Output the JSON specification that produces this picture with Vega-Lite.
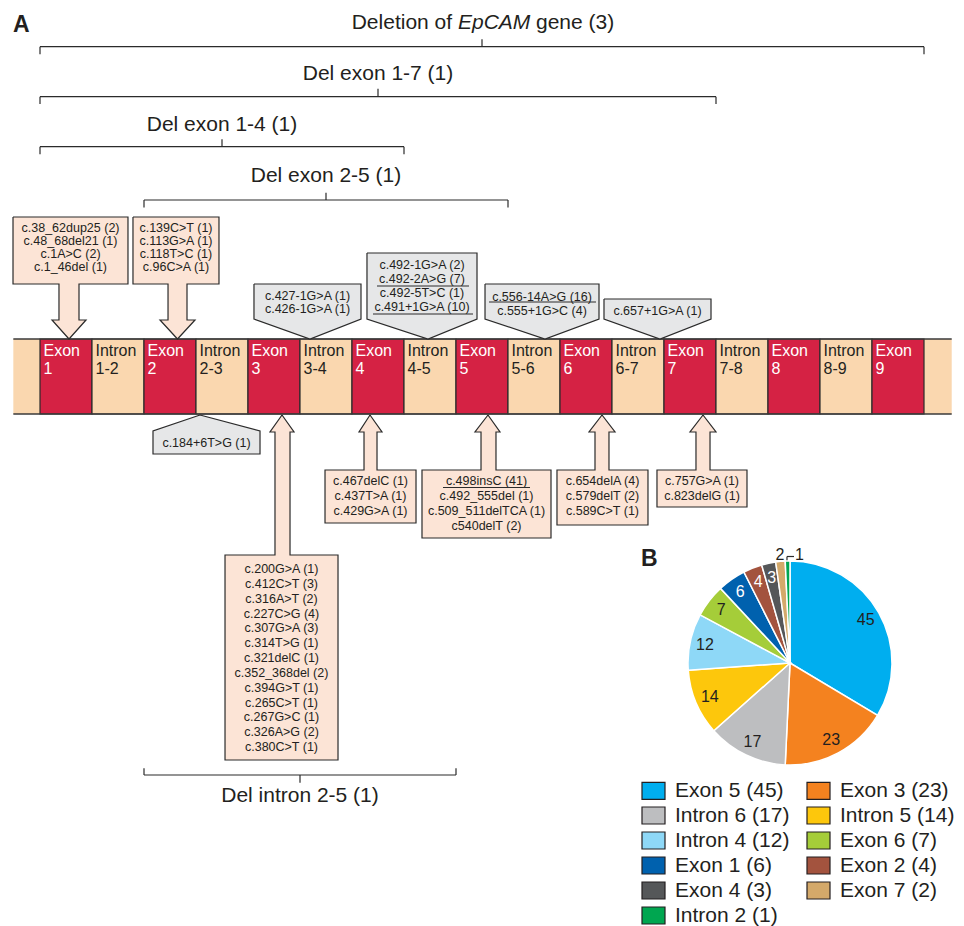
{
  "$schema": "https://vega.github.io/schema/vega-lite/v6.json",
  "width": 964,
  "height": 926,
  "padding": 0,
  "autosize": {"type": "fit", "contains": "padding"},
  "background": "white",
  "config": {
    "view": {"stroke": null},
    "font": "Liberation Sans",
    "text": {"font": "Liberation Sans", "color": "#231F20"}
  },
  "datasets": {
    "segments": [
      {"kind": "utr", "pos": -0.513, "pos2": 0, "label": ""},
      {"kind": "exon", "pos": 0, "pos2": 1, "label": "Exon\n1"},
      {"kind": "intron", "pos": 1, "pos2": 2, "label": "Intron\n1-2"},
      {"kind": "exon", "pos": 2, "pos2": 3, "label": "Exon\n2"},
      {"kind": "intron", "pos": 3, "pos2": 4, "label": "Intron\n2-3"},
      {"kind": "exon", "pos": 4, "pos2": 5, "label": "Exon\n3"},
      {"kind": "intron", "pos": 5, "pos2": 6, "label": "Intron\n3-4"},
      {"kind": "exon", "pos": 6, "pos2": 7, "label": "Exon\n4"},
      {"kind": "intron", "pos": 7, "pos2": 8, "label": "Intron\n4-5"},
      {"kind": "exon", "pos": 8, "pos2": 9, "label": "Exon\n5"},
      {"kind": "intron", "pos": 9, "pos2": 10, "label": "Intron\n5-6"},
      {"kind": "exon", "pos": 10, "pos2": 11, "label": "Exon\n6"},
      {"kind": "intron", "pos": 11, "pos2": 12, "label": "Intron\n6-7"},
      {"kind": "exon", "pos": 12, "pos2": 13, "label": "Exon\n7"},
      {"kind": "intron", "pos": 13, "pos2": 14, "label": "Intron\n7-8"},
      {"kind": "exon", "pos": 14, "pos2": 15, "label": "Exon\n8"},
      {"kind": "intron", "pos": 15, "pos2": 16, "label": "Intron\n8-9"},
      {"kind": "exon", "pos": 16, "pos2": 17, "label": "Exon\n9"},
      {"kind": "utr", "pos": 17, "pos2": 17.533, "label": ""}
    ],
    "edges": [
      {"pos": -0.513, "pos2": 17.533, "lev": 33.9, "lev2": 33.9},
      {"pos": -0.513, "pos2": 17.533, "lev": 41.4, "lev2": 41.4}
    ],
    "rules": [
      {"item": "Deletion of EpCAM gene", "pos": 0, "pos2": 17, "lev": 4.67, "lev2": 4.67},
      {"item": "Deletion of EpCAM gene", "pos": 0, "pos2": 0, "lev": 4.67, "lev2": 5.43},
      {"item": "Deletion of EpCAM gene", "pos": 17, "pos2": 17, "lev": 4.67, "lev2": 5.43},
      {"item": "Deletion of EpCAM gene", "pos": 8.5, "pos2": 8.5, "lev": 3.93, "lev2": 4.67},
      {"item": "Del exon 1-7", "pos": 0, "pos2": 13, "lev": 9.67, "lev2": 9.67},
      {"item": "Del exon 1-7", "pos": 0, "pos2": 0, "lev": 9.67, "lev2": 10.4},
      {"item": "Del exon 1-7", "pos": 13, "pos2": 13, "lev": 9.67, "lev2": 10.4},
      {"item": "Del exon 1-7", "pos": 6.5, "pos2": 6.5, "lev": 8.87, "lev2": 9.67},
      {"item": "Del exon 1-4", "pos": 0, "pos2": 7, "lev": 14.67, "lev2": 14.67},
      {"item": "Del exon 1-4", "pos": 0, "pos2": 0, "lev": 14.67, "lev2": 15.43},
      {"item": "Del exon 1-4", "pos": 7, "pos2": 7, "lev": 14.67, "lev2": 15.43},
      {"item": "Del exon 1-4", "pos": 3.5, "pos2": 3.5, "lev": 13.93, "lev2": 14.67},
      {"item": "Del exon 2-5", "pos": 2, "pos2": 9, "lev": 20.0, "lev2": 20.0},
      {"item": "Del exon 2-5", "pos": 2, "pos2": 2, "lev": 20.0, "lev2": 20.75},
      {"item": "Del exon 2-5", "pos": 9, "pos2": 9, "lev": 20.0, "lev2": 20.75},
      {"item": "Del exon 2-5", "pos": 5.5, "pos2": 5.5, "lev": 19.27, "lev2": 20.0},
      {"item": "Del intron 2-5", "pos": 2, "pos2": 8, "lev": 77.5, "lev2": 77.5},
      {"item": "Del intron 2-5", "pos": 2, "pos2": 2, "lev": 76.83, "lev2": 77.5},
      {"item": "Del intron 2-5", "pos": 8, "pos2": 8, "lev": 76.83, "lev2": 77.5},
      {"item": "Del intron 2-5", "pos": 5, "pos2": 5, "lev": 77.5, "lev2": 78.27},
      {"item": "underline c.492-2A>G", "pos": 6.481, "pos2": 8.25, "lev": 28.6, "lev2": 28.6},
      {"item": "underline c.491+1G>A", "pos": 6.404, "pos2": 8.327, "lev": 31.4, "lev2": 31.4},
      {"item": "underline c.556-14A>G", "pos": 8.635, "pos2": 10.692, "lev": 30.2, "lev2": 30.2},
      {"item": "underline c.498insC", "pos": 7.75, "pos2": 9.423, "lev": 48.75, "lev2": 48.75},
      {"item": "pie leader", "pos": 14.365, "pos2": 14.365, "lev": 56.1, "lev2": 55.65},
      {"item": "pie leader", "pos": 14.365, "pos2": 14.5, "lev": 55.65, "lev2": 55.65}
    ],
    "callouts": [
      {"callout": "Exon 1", "region": "exon", "i": 0, "pos": -0.519, "lev": 21.7},
      {"callout": "Exon 1", "region": "exon", "i": 1, "pos": 1.692, "lev": 21.7},
      {"callout": "Exon 1", "region": "exon", "i": 2, "pos": 1.692, "lev": 28.4},
      {"callout": "Exon 1", "region": "exon", "i": 3, "pos": 0.75, "lev": 28.4},
      {"callout": "Exon 1", "region": "exon", "i": 4, "pos": 0.75, "lev": 32.0},
      {"callout": "Exon 1", "region": "exon", "i": 5, "pos": 0.885, "lev": 32.0},
      {"callout": "Exon 1", "region": "exon", "i": 6, "pos": 0.558, "lev": 33.9},
      {"callout": "Exon 1", "region": "exon", "i": 7, "pos": 0.231, "lev": 32.0},
      {"callout": "Exon 1", "region": "exon", "i": 8, "pos": 0.365, "lev": 32.0},
      {"callout": "Exon 1", "region": "exon", "i": 9, "pos": 0.365, "lev": 28.4},
      {"callout": "Exon 1", "region": "exon", "i": 10, "pos": -0.519, "lev": 28.4},
      {"callout": "Exon 1", "region": "exon", "i": 11, "pos": -0.519, "lev": 21.7},
      {"callout": "Exon 2", "region": "exon", "i": 0, "pos": 1.788, "lev": 21.7},
      {"callout": "Exon 2", "region": "exon", "i": 1, "pos": 3.442, "lev": 21.7},
      {"callout": "Exon 2", "region": "exon", "i": 2, "pos": 3.442, "lev": 28.4},
      {"callout": "Exon 2", "region": "exon", "i": 3, "pos": 2.827, "lev": 28.4},
      {"callout": "Exon 2", "region": "exon", "i": 4, "pos": 2.827, "lev": 32.0},
      {"callout": "Exon 2", "region": "exon", "i": 5, "pos": 2.981, "lev": 32.0},
      {"callout": "Exon 2", "region": "exon", "i": 6, "pos": 2.644, "lev": 33.9},
      {"callout": "Exon 2", "region": "exon", "i": 7, "pos": 2.308, "lev": 32.0},
      {"callout": "Exon 2", "region": "exon", "i": 8, "pos": 2.462, "lev": 32.0},
      {"callout": "Exon 2", "region": "exon", "i": 9, "pos": 2.462, "lev": 28.4},
      {"callout": "Exon 2", "region": "exon", "i": 10, "pos": 1.788, "lev": 28.4},
      {"callout": "Exon 2", "region": "exon", "i": 11, "pos": 1.788, "lev": 21.7},
      {"callout": "Exon 3", "region": "exon", "i": 0, "pos": 4.654, "lev": 41.5},
      {"callout": "Exon 3", "region": "exon", "i": 1, "pos": 4.885, "lev": 43.2},
      {"callout": "Exon 3", "region": "exon", "i": 2, "pos": 4.808, "lev": 43.2},
      {"callout": "Exon 3", "region": "exon", "i": 3, "pos": 4.808, "lev": 55.5},
      {"callout": "Exon 3", "region": "exon", "i": 4, "pos": 5.731, "lev": 55.5},
      {"callout": "Exon 3", "region": "exon", "i": 5, "pos": 5.731, "lev": 76.0},
      {"callout": "Exon 3", "region": "exon", "i": 6, "pos": 3.558, "lev": 76.0},
      {"callout": "Exon 3", "region": "exon", "i": 7, "pos": 3.558, "lev": 55.5},
      {"callout": "Exon 3", "region": "exon", "i": 8, "pos": 4.519, "lev": 55.5},
      {"callout": "Exon 3", "region": "exon", "i": 9, "pos": 4.519, "lev": 43.2},
      {"callout": "Exon 3", "region": "exon", "i": 10, "pos": 4.423, "lev": 43.2},
      {"callout": "Exon 3", "region": "exon", "i": 11, "pos": 4.654, "lev": 41.5},
      {"callout": "Exon 4", "region": "exon", "i": 0, "pos": 6.346, "lev": 41.5},
      {"callout": "Exon 4", "region": "exon", "i": 1, "pos": 6.577, "lev": 43.2},
      {"callout": "Exon 4", "region": "exon", "i": 2, "pos": 6.481, "lev": 43.2},
      {"callout": "Exon 4", "region": "exon", "i": 3, "pos": 6.481, "lev": 47.0},
      {"callout": "Exon 4", "region": "exon", "i": 4, "pos": 7.231, "lev": 47.0},
      {"callout": "Exon 4", "region": "exon", "i": 5, "pos": 7.231, "lev": 52.3},
      {"callout": "Exon 4", "region": "exon", "i": 6, "pos": 5.481, "lev": 52.3},
      {"callout": "Exon 4", "region": "exon", "i": 7, "pos": 5.481, "lev": 47.0},
      {"callout": "Exon 4", "region": "exon", "i": 8, "pos": 6.231, "lev": 47.0},
      {"callout": "Exon 4", "region": "exon", "i": 9, "pos": 6.231, "lev": 43.2},
      {"callout": "Exon 4", "region": "exon", "i": 10, "pos": 6.135, "lev": 43.2},
      {"callout": "Exon 4", "region": "exon", "i": 11, "pos": 6.346, "lev": 41.5},
      {"callout": "Exon 5", "region": "exon", "i": 0, "pos": 8.615, "lev": 41.5},
      {"callout": "Exon 5", "region": "exon", "i": 1, "pos": 8.846, "lev": 43.2},
      {"callout": "Exon 5", "region": "exon", "i": 2, "pos": 8.769, "lev": 43.2},
      {"callout": "Exon 5", "region": "exon", "i": 3, "pos": 8.769, "lev": 47.0},
      {"callout": "Exon 5", "region": "exon", "i": 4, "pos": 9.827, "lev": 47.0},
      {"callout": "Exon 5", "region": "exon", "i": 5, "pos": 9.827, "lev": 53.8},
      {"callout": "Exon 5", "region": "exon", "i": 6, "pos": 7.346, "lev": 53.8},
      {"callout": "Exon 5", "region": "exon", "i": 7, "pos": 7.346, "lev": 47.0},
      {"callout": "Exon 5", "region": "exon", "i": 8, "pos": 8.481, "lev": 47.0},
      {"callout": "Exon 5", "region": "exon", "i": 9, "pos": 8.481, "lev": 43.2},
      {"callout": "Exon 5", "region": "exon", "i": 10, "pos": 8.365, "lev": 43.2},
      {"callout": "Exon 5", "region": "exon", "i": 11, "pos": 8.615, "lev": 41.5},
      {"callout": "Exon 6", "region": "exon", "i": 0, "pos": 10.808, "lev": 41.5},
      {"callout": "Exon 6", "region": "exon", "i": 1, "pos": 11.058, "lev": 43.2},
      {"callout": "Exon 6", "region": "exon", "i": 2, "pos": 10.942, "lev": 43.2},
      {"callout": "Exon 6", "region": "exon", "i": 3, "pos": 10.942, "lev": 47.0},
      {"callout": "Exon 6", "region": "exon", "i": 4, "pos": 11.692, "lev": 47.0},
      {"callout": "Exon 6", "region": "exon", "i": 5, "pos": 11.692, "lev": 52.5},
      {"callout": "Exon 6", "region": "exon", "i": 6, "pos": 9.942, "lev": 52.5},
      {"callout": "Exon 6", "region": "exon", "i": 7, "pos": 9.942, "lev": 47.0},
      {"callout": "Exon 6", "region": "exon", "i": 8, "pos": 10.673, "lev": 47.0},
      {"callout": "Exon 6", "region": "exon", "i": 9, "pos": 10.673, "lev": 43.2},
      {"callout": "Exon 6", "region": "exon", "i": 10, "pos": 10.558, "lev": 43.2},
      {"callout": "Exon 6", "region": "exon", "i": 11, "pos": 10.808, "lev": 41.5},
      {"callout": "Exon 7", "region": "exon", "i": 0, "pos": 12.75, "lev": 41.5},
      {"callout": "Exon 7", "region": "exon", "i": 1, "pos": 13.0, "lev": 43.2},
      {"callout": "Exon 7", "region": "exon", "i": 2, "pos": 12.885, "lev": 43.2},
      {"callout": "Exon 7", "region": "exon", "i": 3, "pos": 12.885, "lev": 47.0},
      {"callout": "Exon 7", "region": "exon", "i": 4, "pos": 13.596, "lev": 47.0},
      {"callout": "Exon 7", "region": "exon", "i": 5, "pos": 13.596, "lev": 50.7},
      {"callout": "Exon 7", "region": "exon", "i": 6, "pos": 11.865, "lev": 50.7},
      {"callout": "Exon 7", "region": "exon", "i": 7, "pos": 11.865, "lev": 47.0},
      {"callout": "Exon 7", "region": "exon", "i": 8, "pos": 12.615, "lev": 47.0},
      {"callout": "Exon 7", "region": "exon", "i": 9, "pos": 12.615, "lev": 43.2},
      {"callout": "Exon 7", "region": "exon", "i": 10, "pos": 12.5, "lev": 43.2},
      {"callout": "Exon 7", "region": "exon", "i": 11, "pos": 12.75, "lev": 41.5},
      {"callout": "Intron 3", "region": "intron", "i": 0, "pos": 4.115, "lev": 28.4},
      {"callout": "Intron 3", "region": "intron", "i": 1, "pos": 6.173, "lev": 28.4},
      {"callout": "Intron 3", "region": "intron", "i": 2, "pos": 6.173, "lev": 31.9},
      {"callout": "Intron 3", "region": "intron", "i": 3, "pos": 5.192, "lev": 33.9},
      {"callout": "Intron 3", "region": "intron", "i": 4, "pos": 4.115, "lev": 31.9},
      {"callout": "Intron 3", "region": "intron", "i": 5, "pos": 4.115, "lev": 28.4},
      {"callout": "Intron 4", "region": "intron", "i": 0, "pos": 6.288, "lev": 25.3},
      {"callout": "Intron 4", "region": "intron", "i": 1, "pos": 8.404, "lev": 25.3},
      {"callout": "Intron 4", "region": "intron", "i": 2, "pos": 8.404, "lev": 31.9},
      {"callout": "Intron 4", "region": "intron", "i": 3, "pos": 7.462, "lev": 33.9},
      {"callout": "Intron 4", "region": "intron", "i": 4, "pos": 6.288, "lev": 31.9},
      {"callout": "Intron 4", "region": "intron", "i": 5, "pos": 6.288, "lev": 25.3},
      {"callout": "Intron 5", "region": "intron", "i": 0, "pos": 8.558, "lev": 28.4},
      {"callout": "Intron 5", "region": "intron", "i": 1, "pos": 10.75, "lev": 28.4},
      {"callout": "Intron 5", "region": "intron", "i": 2, "pos": 10.75, "lev": 31.9},
      {"callout": "Intron 5", "region": "intron", "i": 3, "pos": 9.712, "lev": 33.9},
      {"callout": "Intron 5", "region": "intron", "i": 4, "pos": 8.558, "lev": 31.9},
      {"callout": "Intron 5", "region": "intron", "i": 5, "pos": 8.558, "lev": 28.4},
      {"callout": "Intron 6", "region": "intron", "i": 0, "pos": 10.846, "lev": 29.9},
      {"callout": "Intron 6", "region": "intron", "i": 1, "pos": 12.904, "lev": 29.9},
      {"callout": "Intron 6", "region": "intron", "i": 2, "pos": 12.904, "lev": 31.9},
      {"callout": "Intron 6", "region": "intron", "i": 3, "pos": 11.923, "lev": 33.9},
      {"callout": "Intron 6", "region": "intron", "i": 4, "pos": 10.846, "lev": 31.9},
      {"callout": "Intron 6", "region": "intron", "i": 5, "pos": 10.846, "lev": 29.9},
      {"callout": "Intron 2", "region": "intron", "i": 0, "pos": 3.077, "lev": 41.5},
      {"callout": "Intron 2", "region": "intron", "i": 1, "pos": 4.231, "lev": 43.1},
      {"callout": "Intron 2", "region": "intron", "i": 2, "pos": 4.231, "lev": 45.4},
      {"callout": "Intron 2", "region": "intron", "i": 3, "pos": 2.173, "lev": 45.4},
      {"callout": "Intron 2", "region": "intron", "i": 4, "pos": 2.173, "lev": 43.1},
      {"callout": "Intron 2", "region": "intron", "i": 5, "pos": 3.077, "lev": 41.5}
    ],
    "variants": [
      {"site": "Exon 1", "variant": "c.38_62dup25 (2)", "pos": 0.587, "lev": 22.75},
      {"site": "Exon 1", "variant": "c.48_68del21 (1)", "pos": 0.587, "lev": 24.05},
      {"site": "Exon 1", "variant": "c.1A>C (2)", "pos": 0.587, "lev": 25.35},
      {"site": "Exon 1", "variant": "c.1_46del (1)", "pos": 0.587, "lev": 26.65},
      {"site": "Exon 2", "variant": "c.139C>T (1)", "pos": 2.615, "lev": 22.75},
      {"site": "Exon 2", "variant": "c.113G>A (1)", "pos": 2.615, "lev": 24.05},
      {"site": "Exon 2", "variant": "c.118T>C (1)", "pos": 2.615, "lev": 25.35},
      {"site": "Exon 2", "variant": "c.96C>A (1)", "pos": 2.615, "lev": 26.65},
      {"site": "Intron 3", "variant": "c.427-1G>A (1)", "pos": 5.144, "lev": 29.55},
      {"site": "Intron 3", "variant": "c.426-1G>A (1)", "pos": 5.144, "lev": 30.9},
      {"site": "Intron 4", "variant": "c.492-1G>A (2)", "pos": 7.346, "lev": 26.5},
      {"site": "Intron 4", "variant": "c.492-2A>G (7)", "pos": 7.346, "lev": 27.9},
      {"site": "Intron 4", "variant": "c.492-5T>C (1)", "pos": 7.346, "lev": 29.3},
      {"site": "Intron 4", "variant": "c.491+1G>A (10)", "pos": 7.346, "lev": 30.7},
      {"site": "Intron 5", "variant": "c.556-14A>G (16)", "pos": 9.654, "lev": 29.7},
      {"site": "Intron 5", "variant": "c.555+1G>C (4)", "pos": 9.654, "lev": 31.1},
      {"site": "Intron 6", "variant": "c.657+1G>A (1)", "pos": 11.875, "lev": 31.1},
      {"site": "Intron 2", "variant": "c.184+6T>G (1)", "pos": 3.202, "lev": 44.3},
      {"site": "Exon 3", "variant": "c.200G>A (1)", "pos": 4.644, "lev": 56.9},
      {"site": "Exon 3", "variant": "c.412C>T (3)", "pos": 4.644, "lev": 58.38},
      {"site": "Exon 3", "variant": "c.316A>T (2)", "pos": 4.644, "lev": 59.87},
      {"site": "Exon 3", "variant": "c.227C>G (4)", "pos": 4.644, "lev": 61.35},
      {"site": "Exon 3", "variant": "c.307G>A (3)", "pos": 4.644, "lev": 62.83},
      {"site": "Exon 3", "variant": "c.314T>G (1)", "pos": 4.644, "lev": 64.32},
      {"site": "Exon 3", "variant": "c.321delC (1)", "pos": 4.644, "lev": 65.8},
      {"site": "Exon 3", "variant": "c.352_368del (2)", "pos": 4.644, "lev": 67.28},
      {"site": "Exon 3", "variant": "c.394G>T (1)", "pos": 4.644, "lev": 68.77},
      {"site": "Exon 3", "variant": "c.265C>T (1)", "pos": 4.644, "lev": 70.25},
      {"site": "Exon 3", "variant": "c.267G>C (1)", "pos": 4.644, "lev": 71.73},
      {"site": "Exon 3", "variant": "c.326A>G (2)", "pos": 4.644, "lev": 73.22},
      {"site": "Exon 3", "variant": "c.380C>T (1)", "pos": 4.644, "lev": 74.7},
      {"site": "Exon 4", "variant": "c.467delC (1)", "pos": 6.356, "lev": 48.1},
      {"site": "Exon 4", "variant": "c.437T>A (1)", "pos": 6.356, "lev": 49.6},
      {"site": "Exon 4", "variant": "c.429G>A (1)", "pos": 6.356, "lev": 51.1},
      {"site": "Exon 5", "variant": "c.498insC (41)", "pos": 8.587, "lev": 48.1},
      {"site": "Exon 5", "variant": "c.492_555del (1)", "pos": 8.587, "lev": 49.6},
      {"site": "Exon 5", "variant": "c.509_511delTCA (1)", "pos": 8.587, "lev": 51.1},
      {"site": "Exon 5", "variant": "c540delT (2)", "pos": 8.587, "lev": 52.6},
      {"site": "Exon 6", "variant": "c.654delA (4)", "pos": 10.817, "lev": 48.1},
      {"site": "Exon 6", "variant": "c.579delT (2)", "pos": 10.817, "lev": 49.6},
      {"site": "Exon 6", "variant": "c.589C>T (1)", "pos": 10.817, "lev": 51.1},
      {"site": "Exon 7", "variant": "c.757G>A (1)", "pos": 12.731, "lev": 48.1},
      {"site": "Exon 7", "variant": "c.823delG (1)", "pos": 12.731, "lev": 49.6}
    ],
    "titles": [
      {"part": "center", "text": "Del exon 1-7 (1)", "pos": 6.5, "lev": 8.0},
      {"part": "center", "text": "Del exon 1-4 (1)", "pos": 3.5, "lev": 13.05},
      {"part": "center", "text": "Del exon 2-5 (1)", "pos": 5.5, "lev": 18.15},
      {"part": "center", "text": "Del intron 2-5 (1)", "pos": 5, "lev": 80.2},
      {"part": "before", "text": "Deletion of", "pos": 7.925, "lev": 2.85},
      {"part": "gene", "text": "EpCAM", "pos": 8.733, "lev": 2.85},
      {"part": "after", "text": "gene (3)", "pos": 9.538, "lev": 2.85},
      {"part": "panel", "text": "A", "pos": -0.519, "lev": 3.2},
      {"part": "panel", "text": "B", "pos": 11.558, "lev": 56.6}
    ],
    "share": [
      {"site": "Exon 5", "count": 45, "legend": "Exon 5 (45)"},
      {"site": "Exon 3", "count": 23, "legend": "Exon 3 (23)"},
      {"site": "Intron 6", "count": 17, "legend": "Intron 6 (17)"},
      {"site": "Intron 5", "count": 14, "legend": "Intron 5 (14)"},
      {"site": "Intron 4", "count": 12, "legend": "Intron 4 (12)"},
      {"site": "Exon 6", "count": 7, "legend": "Exon 6 (7)"},
      {"site": "Exon 1", "count": 6, "legend": "Exon 1 (6)"},
      {"site": "Exon 2", "count": 4, "legend": "Exon 2 (4)"},
      {"site": "Exon 4", "count": 3, "legend": "Exon 4 (3)"},
      {"site": "Exon 7", "count": 2, "legend": "Exon 7 (2)"},
      {"site": "Intron 2", "count": 1, "legend": "Intron 2 (1)"}
    ]
  },
  "layer": [
    {
      "data": {"name": "segments"},
      "transform": [{"filter": "datum.kind === 'utr'"}],
      "mark": {"type": "rect", "fill": "#FAD7AF"},
      "encoding": {
        "x": {"field": "pos", "type": "quantitative", "scale": {"domain": [-0.7692, 17.7692], "nice": false, "zero": false}, "axis": null},
        "x2": {"field": "pos2"},
        "y": {"datum": 33.9, "type": "quantitative", "scale": {"domain": [0, 92.6], "reverse": true, "nice": false, "zero": false}, "axis": null},
        "y2": {"datum": 41.4}
      }
    },
    {
      "data": {"name": "segments"},
      "transform": [{"filter": "datum.kind !== 'utr'"}],
      "mark": {"type": "rect", "stroke": "#2b2b2b", "strokeWidth": 1.2},
      "encoding": {
        "x": {"field": "pos", "type": "quantitative", "scale": {"domain": [-0.7692, 17.7692], "nice": false, "zero": false}, "axis": null},
        "x2": {"field": "pos2"},
        "y": {"datum": 33.9, "type": "quantitative", "scale": {"domain": [0, 92.6], "reverse": true, "nice": false, "zero": false}, "axis": null},
        "y2": {"datum": 41.4},
        "color": {"condition": {"test": "datum.kind === 'exon'", "value": "#D52244"}, "value": "#FAD7AF"}
      }
    },
    {
      "data": {"name": "edges"},
      "mark": {"type": "rule", "stroke": "#3a3a3a", "strokeWidth": 1.5},
      "encoding": {
        "x": {"field": "pos", "type": "quantitative", "scale": {"domain": [-0.7692, 17.7692], "nice": false, "zero": false}, "axis": null},
        "x2": {"field": "pos2"},
        "y": {"field": "lev", "type": "quantitative", "scale": {"domain": [0, 92.6], "reverse": true, "nice": false, "zero": false}, "axis": null},
        "y2": {"field": "lev2"}
      }
    },
    {
      "data": {"name": "segments"},
      "transform": [{"filter": "datum.kind !== 'utr'"}],
      "mark": {"type": "text", "align": "left", "baseline": "alphabetic", "dx": 3.5, "fontSize": 16, "lineHeight": 17.7, "lineBreak": "\n"},
      "encoding": {
        "x": {"field": "pos", "type": "quantitative", "scale": {"domain": [-0.7692, 17.7692], "nice": false, "zero": false}, "axis": null},
        "y": {"datum": 35.6, "type": "quantitative", "scale": {"domain": [0, 92.6], "reverse": true, "nice": false, "zero": false}, "axis": null},
        "text": {"field": "label"},
        "color": {"condition": {"test": "datum.kind === 'exon'", "value": "white"}, "value": "#231F20"}
      }
    },
    {
      "data": {"name": "callouts"},
      "transform": [{"filter": "datum.region === 'exon'"}],
      "mark": {"type": "line", "fill": "#FCE4D6", "stroke": "#2b2b2b", "strokeWidth": 1.2, "strokeJoin": "miter", "interpolate": "linear"},
      "encoding": {
        "x": {"field": "pos", "type": "quantitative", "scale": {"domain": [-0.7692, 17.7692], "nice": false, "zero": false}, "axis": null},
        "y": {"field": "lev", "type": "quantitative", "scale": {"domain": [0, 92.6], "reverse": true, "nice": false, "zero": false}, "axis": null},
        "detail": {"field": "callout"},
        "order": {"field": "i", "type": "quantitative"}
      }
    },
    {
      "data": {"name": "callouts"},
      "transform": [{"filter": "datum.region === 'intron'"}],
      "mark": {"type": "line", "fill": "#E6E7E8", "stroke": "#2b2b2b", "strokeWidth": 1.2, "strokeJoin": "miter", "interpolate": "linear"},
      "encoding": {
        "x": {"field": "pos", "type": "quantitative", "scale": {"domain": [-0.7692, 17.7692], "nice": false, "zero": false}, "axis": null},
        "y": {"field": "lev", "type": "quantitative", "scale": {"domain": [0, 92.6], "reverse": true, "nice": false, "zero": false}, "axis": null},
        "detail": {"field": "callout"},
        "order": {"field": "i", "type": "quantitative"}
      }
    },
    {
      "data": {"name": "variants"},
      "mark": {"type": "text", "align": "center", "baseline": "middle", "fontSize": 12.5},
      "encoding": {
        "x": {"field": "pos", "type": "quantitative", "scale": {"domain": [-0.7692, 17.7692], "nice": false, "zero": false}, "axis": null},
        "y": {"field": "lev", "type": "quantitative", "scale": {"domain": [0, 92.6], "reverse": true, "nice": false, "zero": false}, "axis": null},
        "text": {"field": "variant"}
      }
    },
    {
      "data": {"name": "rules"},
      "mark": {"type": "rule", "stroke": "#2b2b2b", "strokeWidth": 1.2},
      "encoding": {
        "x": {"field": "pos", "type": "quantitative", "scale": {"domain": [-0.7692, 17.7692], "nice": false, "zero": false}, "axis": null},
        "x2": {"field": "pos2"},
        "y": {"field": "lev", "type": "quantitative", "scale": {"domain": [0, 92.6], "reverse": true, "nice": false, "zero": false}, "axis": null},
        "y2": {"field": "lev2"}
      }
    },
    {
      "data": {"name": "titles"},
      "transform": [{"filter": "datum.part === 'center'"}],
      "mark": {"type": "text", "align": "center", "baseline": "alphabetic", "fontSize": 21},
      "encoding": {
        "x": {"field": "pos", "type": "quantitative", "scale": {"domain": [-0.7692, 17.7692], "nice": false, "zero": false}, "axis": null},
        "y": {"field": "lev", "type": "quantitative", "scale": {"domain": [0, 92.6], "reverse": true, "nice": false, "zero": false}, "axis": null},
        "text": {"field": "text"}
      }
    },
    {
      "data": {"name": "titles"},
      "transform": [{"filter": "datum.part === 'before'"}],
      "mark": {"type": "text", "align": "right", "baseline": "alphabetic", "fontSize": 21},
      "encoding": {
        "x": {"field": "pos", "type": "quantitative", "scale": {"domain": [-0.7692, 17.7692], "nice": false, "zero": false}, "axis": null},
        "y": {"field": "lev", "type": "quantitative", "scale": {"domain": [0, 92.6], "reverse": true, "nice": false, "zero": false}, "axis": null},
        "text": {"field": "text"}
      }
    },
    {
      "data": {"name": "titles"},
      "transform": [{"filter": "datum.part === 'gene'"}],
      "mark": {"type": "text", "align": "center", "baseline": "alphabetic", "fontSize": 21, "fontStyle": "italic"},
      "encoding": {
        "x": {"field": "pos", "type": "quantitative", "scale": {"domain": [-0.7692, 17.7692], "nice": false, "zero": false}, "axis": null},
        "y": {"field": "lev", "type": "quantitative", "scale": {"domain": [0, 92.6], "reverse": true, "nice": false, "zero": false}, "axis": null},
        "text": {"field": "text"}
      }
    },
    {
      "data": {"name": "titles"},
      "transform": [{"filter": "datum.part === 'after'"}],
      "mark": {"type": "text", "align": "left", "baseline": "alphabetic", "fontSize": 21},
      "encoding": {
        "x": {"field": "pos", "type": "quantitative", "scale": {"domain": [-0.7692, 17.7692], "nice": false, "zero": false}, "axis": null},
        "y": {"field": "lev", "type": "quantitative", "scale": {"domain": [0, 92.6], "reverse": true, "nice": false, "zero": false}, "axis": null},
        "text": {"field": "text"}
      }
    },
    {
      "data": {"name": "titles"},
      "transform": [{"filter": "datum.part === 'panel'"}],
      "mark": {"type": "text", "align": "left", "baseline": "alphabetic", "fontSize": 23, "fontWeight": "bold"},
      "encoding": {
        "x": {"field": "pos", "type": "quantitative", "scale": {"domain": [-0.7692, 17.7692], "nice": false, "zero": false}, "axis": null},
        "y": {"field": "lev", "type": "quantitative", "scale": {"domain": [0, 92.6], "reverse": true, "nice": false, "zero": false}, "axis": null},
        "text": {"field": "text"}
      }
    },
    {
      "data": {"name": "share"},
      "mark": {"type": "arc", "outerRadius": 102, "stroke": "white", "strokeWidth": 1.5},
      "encoding": {
        "x": {"datum": 14.423, "type": "quantitative", "scale": {"domain": [-0.7692, 17.7692], "nice": false, "zero": false}, "axis": null},
        "y": {"datum": 66.3, "type": "quantitative", "scale": {"domain": [0, 92.6], "reverse": true, "nice": false, "zero": false}, "axis": null},
        "theta": {"field": "count", "type": "quantitative", "stack": true},
        "order": {"field": "count", "type": "quantitative", "sort": "descending"},
        "color": {
          "field": "legend",
          "type": "nominal",
          "scale": {
            "domain": ["Exon 5 (45)", "Intron 6 (17)", "Intron 4 (12)", "Exon 1 (6)", "Exon 4 (3)", "Intron 2 (1)", "Exon 3 (23)", "Intron 5 (14)", "Exon 6 (7)", "Exon 2 (4)", "Exon 7 (2)"],
            "range": ["#00AEEF", "#BDBEC0", "#8ED8F7", "#0061AE", "#555759", "#00A650", "#F4821F", "#FDC70C", "#A5CD39", "#A3533E", "#D4A96A"]
          },
          "legend": {
            "orient": "none",
            "legendX": 641,
            "legendY": 778,
            "columns": 2,
            "title": null,
            "padding": 0,
            "symbolType": "M-1,-0.74H1V0.74H-1Z",
            "symbolSize": 529,
            "symbolStrokeColor": "#231F20",
            "symbolStrokeWidth": 1.2,
            "symbolOpacity": 1,
            "labelFont": "Liberation Sans",
            "labelFontSize": 21,
            "labelColor": "#231F20",
            "labelOffset": 9,
            "labelLimit": 0,
            "columnPadding": 14,
            "rowPadding": 1
          }
        }
      }
    },
    {
      "data": {"name": "share"},
      "mark": {"type": "text", "radius": 87, "fontSize": 16, "align": "center", "baseline": "middle"},
      "encoding": {
        "x": {"datum": 14.423, "type": "quantitative", "scale": {"domain": [-0.7692, 17.7692], "nice": false, "zero": false}, "axis": null},
        "y": {"datum": 66.3, "type": "quantitative", "scale": {"domain": [0, 92.6], "reverse": true, "nice": false, "zero": false}, "axis": null},
        "theta": {"field": "count", "type": "quantitative", "stack": true},
        "order": {"field": "count", "type": "quantitative", "sort": "descending"},
        "text": {"condition": {"test": "datum.count > 2", "field": "count", "type": "quantitative"}, "value": ""},
        "color": {"condition": {"test": "datum.count <= 6", "value": "white"}, "value": "#231F20"}
      }
    },
    {
      "data": {"name": "share"},
      "mark": {"type": "text", "radius": 108, "fontSize": 16, "align": "center", "baseline": "middle"},
      "encoding": {
        "x": {"datum": 14.423, "type": "quantitative", "scale": {"domain": [-0.7692, 17.7692], "nice": false, "zero": false}, "axis": null},
        "y": {"datum": 66.3, "type": "quantitative", "scale": {"domain": [0, 92.6], "reverse": true, "nice": false, "zero": false}, "axis": null},
        "theta": {"field": "count", "type": "quantitative", "stack": true},
        "order": {"field": "count", "type": "quantitative", "sort": "descending"},
        "text": {"condition": {"test": "datum.count === 2", "field": "count", "type": "quantitative"}, "value": ""}
      }
    },
    {
      "data": {"name": "share"},
      "mark": {"type": "text", "radius": 108, "dx": 12, "fontSize": 16, "align": "center", "baseline": "middle"},
      "encoding": {
        "x": {"datum": 14.423, "type": "quantitative", "scale": {"domain": [-0.7692, 17.7692], "nice": false, "zero": false}, "axis": null},
        "y": {"datum": 66.3, "type": "quantitative", "scale": {"domain": [0, 92.6], "reverse": true, "nice": false, "zero": false}, "axis": null},
        "theta": {"field": "count", "type": "quantitative", "stack": true},
        "order": {"field": "count", "type": "quantitative", "sort": "descending"},
        "text": {"condition": {"test": "datum.count === 1", "field": "count", "type": "quantitative"}, "value": ""}
      }
    }
  ]
}
